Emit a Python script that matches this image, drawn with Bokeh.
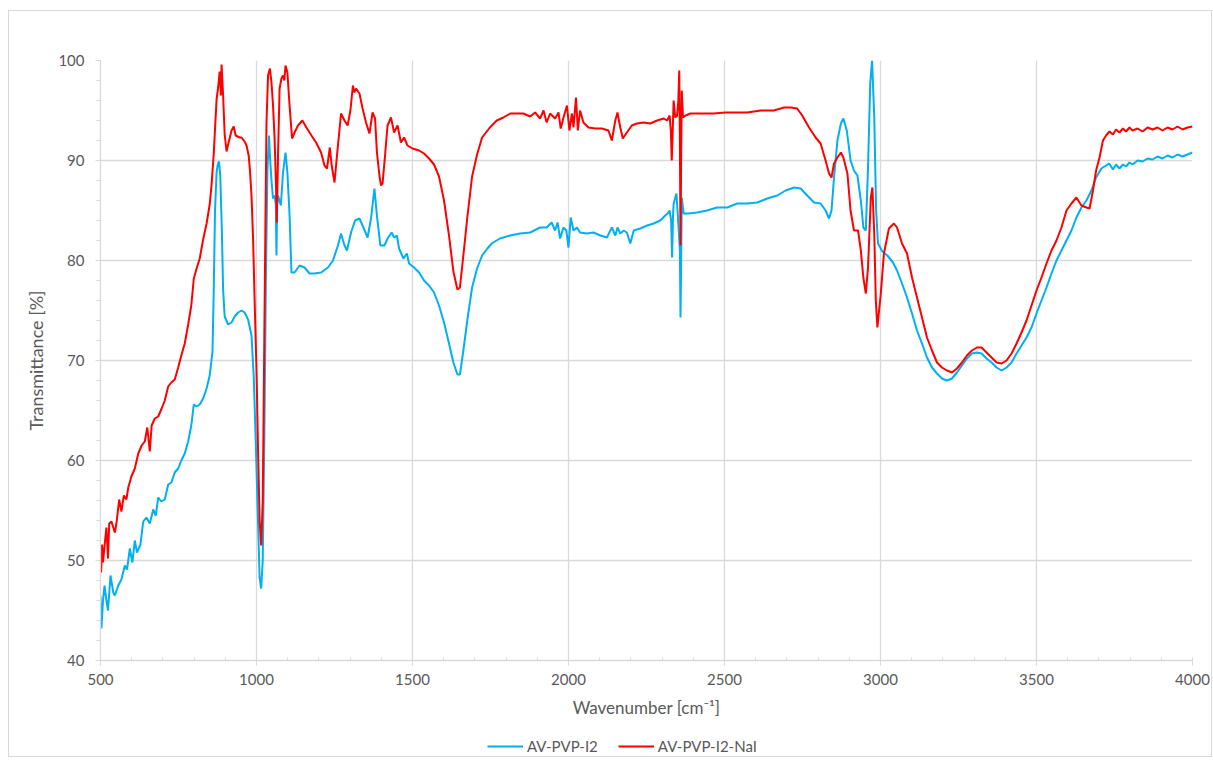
from bokeh.plotting import figure
from bokeh.models import Legend, LegendItem, SingleIntervalTicker, Range1d
from bokeh.layouts import column
from bokeh.embed import file_html
from bokeh.resources import INLINE

# ---------------- data ----------------
blue_wn = [500, 503, 508, 513, 519, 524, 532, 541, 546, 557, 567, 578, 585, 594, 602, 610, 617, 628,
           637, 647, 658, 669, 677, 685, 695, 706, 717, 727, 738, 749, 759, 770, 781, 791, 799, 808,
           818, 829, 840, 850, 859, 863, 867, 872, 876, 880, 884, 889, 893, 898, 909, 920, 930, 941,
           952, 962, 973, 984, 991, 998, 1005, 1010, 1015, 1020, 1025, 1030, 1035, 1040, 1043, 1048,
           1053, 1058, 1062, 1064, 1066, 1069, 1078, 1085, 1093, 1099, 1106, 1112, 1122, 1138, 1154,
           1170, 1186, 1207, 1229, 1245, 1261, 1271, 1282, 1290, 1303, 1316, 1330, 1340, 1356, 1367,
           1378, 1386, 1397, 1410, 1420, 1433, 1441, 1450, 1457, 1471, 1482, 1489, 1505, 1521, 1537,
           1553, 1569, 1585, 1601, 1617, 1631, 1644, 1652, 1663, 1676, 1691, 1707, 1723, 1740, 1754,
           1780, 1813, 1845, 1877, 1909, 1930, 1946, 1957, 1965, 1973, 1984, 1993, 2000, 2007, 2016,
           2027, 2037, 2059, 2080, 2102, 2123, 2139, 2150, 2157, 2166, 2177, 2187, 2198, 2209, 2230,
           2252, 2273, 2294, 2310, 2318, 2324, 2329, 2332, 2335, 2337, 2346, 2352, 2357, 2359, 2361,
           2363, 2369, 2385, 2412, 2444, 2476, 2509, 2541, 2573, 2605, 2637, 2669, 2696, 2723, 2744,
           2765, 2787, 2808, 2824, 2835, 2843, 2851, 2862, 2873, 2881, 2892, 2904, 2915, 2926, 2937,
           2945, 2953, 2960, 2967, 2973, 2980, 2986, 2992, 3006, 3022, 3040, 3053, 3069, 3085, 3101,
           3117, 3133, 3149, 3165, 3181, 3197, 3213, 3229, 3245, 3261, 3277, 3293, 3309, 3324, 3340,
           3356, 3372, 3388, 3404, 3420, 3436, 3452, 3468, 3484, 3500, 3516, 3532, 3548, 3564, 3580,
           3596, 3612, 3628, 3644, 3660, 3676, 3691, 3708, 3723, 3733, 3745, 3755, 3766, 3777, 3787,
           3798, 3808, 3824, 3840, 3856, 3872, 3888, 3904, 3920, 3936, 3952, 3968, 3984, 4000]
blue_t = [46.5, 43.2, 46.0, 47.5, 46.0, 45.0, 48.5, 46.8, 46.5, 47.5, 48.1, 49.5, 49.1, 51.2, 49.8, 52.0, 50.8, 51.6,
          53.9, 54.3, 53.7, 55.1, 54.5, 56.3, 55.9, 56.1, 57.6, 57.8, 58.8, 59.2, 60.0, 60.7, 61.9, 63.5, 65.6, 65.4,
          65.6, 66.2, 67.2, 68.5, 70.9, 77.1, 84.9, 88.8, 89.6, 89.9, 88.4, 82.9, 77.1, 74.4, 73.6, 73.8, 74.4, 74.8,
          75.0, 74.8, 74.1, 72.5, 68.5, 61.5, 53.7, 48.3, 47.2, 50.0, 62.0, 78.0, 89.0, 92.5, 90.5, 88.0,
          86.2, 86.5, 85.5, 80.5, 85.5, 86.5, 85.5, 88.8, 90.8, 88.8, 84.5, 78.8, 78.8, 79.5, 79.3,
          78.7, 78.7, 78.8, 79.3, 80.0, 81.5, 82.7, 81.5, 81.0, 82.8, 84.0, 84.2, 83.5, 82.3, 84.2,
          87.2, 84.5, 81.5, 81.5, 82.2, 82.8, 82.3, 82.5, 81.2, 80.2, 80.7, 79.7, 79.3, 78.8, 78.0,
          77.5, 76.8, 75.5, 73.8, 71.7, 69.8, 68.6, 68.6, 71.0, 74.1, 77.3, 79.2, 80.5, 81.2, 81.7,
          82.2, 82.5, 82.7, 82.8, 83.3, 83.3, 83.8, 83.0, 83.8, 82.2, 83.3, 83.0, 81.3, 84.3, 83.0,
          83.3, 82.8, 82.7, 82.8, 82.5, 82.3, 83.3, 82.5, 83.3, 82.7, 83.0, 82.8, 81.7, 83.0, 83.2,
          83.5, 83.7, 84.0, 84.5, 84.7, 85.0, 84.0, 80.3, 84.5, 85.7, 86.7, 83.7, 81.0, 74.3, 80.0,
          86.3, 84.7, 84.7, 84.8, 85.0, 85.3, 85.3, 85.7, 85.7, 85.8, 86.2, 86.5, 87.0, 87.3, 87.2,
          86.5, 85.8, 85.7, 85.0, 84.2, 85.0, 88.3, 92.0, 93.7, 94.2, 93.0, 90.0, 89.0, 88.5, 86.0,
          83.3, 83.0, 89.3, 97.7, 100.0, 94.3, 85.0, 81.7, 80.9, 80.5, 79.8, 79.0, 77.7, 76.3, 74.7,
          73.0, 71.7, 70.3, 69.3, 68.7, 68.2, 68.0, 68.2, 68.8, 69.5, 70.2, 70.7, 70.8, 70.7, 70.2,
          69.8, 69.3, 69.0, 69.3, 69.8, 70.7, 71.5, 72.3, 73.3, 74.7, 76.0, 77.3, 78.7, 80.0, 81.0,
          82.0, 83.0, 84.3, 85.3, 86.0, 87.0, 88.3, 89.2, 89.5, 89.7, 89.1, 89.6, 89.2, 89.6, 89.4,
          89.8, 89.6, 90.0, 89.9, 90.2, 90.1, 90.4, 90.2, 90.5, 90.3, 90.6, 90.4, 90.6, 90.8]

red_wn = [500, 502, 505, 508, 514, 519, 524, 528, 535, 541, 546, 551, 560, 567, 575, 583, 589, 599,
          610, 621, 632, 642, 650, 658, 664, 674, 685, 696, 706, 717, 727, 738, 749, 759, 770, 781,
          791, 799, 808, 818, 829, 840, 850, 856, 863, 872, 877, 882, 886, 888, 893, 898, 904, 912,
          920, 927, 933, 946, 952, 962, 968, 975, 979, 984, 989, 994, 1000, 1005, 1010, 1015, 1020,
          1025, 1029, 1032, 1037, 1043, 1048, 1053, 1058, 1062, 1065, 1069, 1074, 1080, 1085, 1089,
          1093, 1099, 1106, 1114, 1122, 1133, 1147, 1160, 1176, 1191, 1207, 1218, 1226, 1235, 1241,
          1250, 1258, 1271, 1282, 1292, 1301, 1309, 1314, 1319, 1330, 1340, 1351, 1362, 1372, 1380,
          1386, 1394, 1399, 1404, 1412, 1420, 1431, 1441, 1452, 1463, 1473, 1484, 1500, 1521, 1537,
          1553, 1569, 1585, 1601, 1617, 1631, 1644, 1652, 1663, 1676, 1691, 1707, 1723, 1748, 1770,
          1791, 1813, 1834, 1855, 1877, 1893, 1909, 1920, 1930, 1941, 1957, 1968, 1975, 1984, 1995,
          2003, 2011, 2016, 2024, 2030, 2037, 2048, 2064, 2086, 2107, 2128, 2139, 2150, 2157, 2166,
          2174, 2187, 2203, 2219, 2241, 2262, 2284, 2305, 2316, 2324, 2328, 2331, 2334, 2337, 2342,
          2348, 2352, 2355, 2357, 2359, 2361, 2363, 2367, 2375, 2391, 2423, 2466, 2503, 2541, 2573,
          2616, 2658, 2691, 2712, 2733, 2749, 2771, 2792, 2808, 2824, 2835, 2843, 2851, 2862, 2873,
          2881, 2894, 2904, 2915, 2928, 2937, 2945, 2953, 2960, 2969, 2974, 2980, 2985, 2990, 3001,
          3011, 3027, 3043, 3053, 3069, 3085, 3101, 3117, 3133, 3149, 3165, 3181, 3197, 3213, 3229,
          3245, 3261, 3277, 3293, 3309, 3324, 3340, 3356, 3372, 3388, 3404, 3420, 3436, 3452, 3468,
          3484, 3500, 3516, 3532, 3548, 3564, 3580, 3596, 3612, 3628, 3644, 3660, 3670, 3681, 3691,
          3702, 3713, 3723, 3734, 3745, 3755, 3766, 3777, 3787, 3798, 3808, 3824, 3840, 3856, 3872,
          3888, 3904, 3920, 3936, 3952, 3968, 3984, 4000]
red_t = [50.5, 48.8, 51.6, 49.8, 51.8, 53.3, 50.2, 53.7, 53.9, 53.3, 52.8, 53.7, 56.1, 54.9, 56.5, 56.1, 57.3, 58.4,
         59.2, 60.7, 61.5, 61.9, 63.3, 60.9, 63.5, 64.2, 64.4, 65.2, 66.0, 67.4, 67.8, 68.1, 69.3, 70.5, 71.7, 73.6,
         75.5, 78.2, 79.2, 80.2, 82.1, 83.7, 85.6, 87.6, 90.7, 96.1, 97.3, 98.9, 96.5, 99.6, 96.5, 92.6, 90.9, 92.0,
         93.0, 93.4, 92.5, 92.3, 92.3, 91.9, 91.5, 90.5, 89.0, 86.5, 82.2, 76.0, 69.0, 61.0, 54.0, 51.5, 56.0,
         72.0, 85.0, 93.8, 98.5, 99.2, 97.8, 95.5, 92.2, 88.0, 83.8, 90.5, 97.2, 98.2, 98.5, 98.0,
         99.5, 98.8, 95.5, 92.2, 92.8, 93.5, 94.0, 93.3, 92.5, 91.8, 90.8, 89.5, 89.2, 91.3, 89.5,
         87.8, 90.5, 94.7, 94.0, 93.5, 95.0, 97.5, 96.8, 97.2, 96.7, 95.2, 93.8, 92.7, 94.8, 94.2,
         90.8, 88.5, 87.5, 87.7, 90.5, 93.5, 94.3, 92.8, 93.5, 91.8, 92.3, 91.5, 91.2, 91.0, 90.7,
         90.2, 89.6, 88.4, 86.0, 82.5, 78.9, 77.1, 77.3, 80.5, 84.4, 88.4, 90.6, 92.3, 93.3, 94.0,
         94.3, 94.7, 94.7, 94.7, 94.4, 94.8, 94.2, 95.0, 93.8, 94.7, 94.2, 94.8, 93.2, 94.3, 95.5,
         93.0, 94.7, 93.3, 96.3, 93.0, 95.0, 93.8, 93.3, 93.2, 93.2, 93.0, 92.0, 94.0, 94.8, 93.3,
         92.2, 92.8, 93.5, 93.7, 93.8, 93.7, 94.0, 94.2, 94.0, 94.5, 93.0, 90.0, 93.0, 96.0, 94.3,
         94.5, 96.0, 99.0, 92.0, 81.5, 90.0, 97.0, 94.3, 94.5, 94.7, 94.7, 94.7, 94.8, 94.8, 94.8,
         95.0, 95.0, 95.3, 95.3, 95.2, 94.5, 93.3, 92.3, 91.7, 90.0, 88.7, 88.3, 89.7, 90.3, 90.8,
         90.3, 88.7, 85.0, 83.0, 83.0, 81.0, 78.3, 76.7, 79.3, 86.3, 87.3, 82.7, 76.0, 73.3, 76.7,
         80.7, 83.2, 83.7, 83.3, 81.7, 80.7, 78.3, 76.3, 74.3, 72.3, 71.0, 69.8, 69.3, 69.0, 68.8,
         69.2, 69.8, 70.5, 71.0, 71.3, 71.3, 70.8, 70.3, 69.8, 69.7, 70.0, 70.7, 71.7, 72.8, 74.0,
         75.5, 77.0, 78.3, 79.7, 81.0, 82.0, 83.3, 85.0, 85.7, 86.3, 85.5, 85.3, 85.2, 87.0, 89.0,
         90.3, 92.0, 92.5, 92.9, 92.6, 93.1, 92.8, 93.2, 92.9, 93.3, 93.0, 93.2, 92.9, 93.3, 93.1,
         93.3, 93.0, 93.3, 93.1, 93.4, 93.1, 93.3, 93.4]

series_names = ["AV-PVP-I2", "AV-PVP-I2-NaI"]
series_colors = ["#00B0F0", "#FF0000"]
x_label = "Wavenumber [cm\u207b\u00b9]"
y_label = "Transmittance [%]"

# ---------------- figure ----------------
FONT = "Lato"
TXT = "#595959"
GRID = "#d9d9d9"

p = figure(frame_width=1092, frame_height=600, output_backend="svg", toolbar_location=None,
           x_range=Range1d(500, 4000), y_range=Range1d(40, 100),
           min_border_left=91, min_border_right=19, min_border_top=49, min_border_bottom=0)
p.outline_line_color = None
p.background_fill_color = "white"
p.border_fill_color = "white"

p.xaxis.ticker = SingleIntervalTicker(interval=500, num_minor_ticks=5)
p.yaxis.ticker = SingleIntervalTicker(interval=10, num_minor_ticks=5)

for ax in (p.xaxis[0], p.yaxis[0]):
    ax.axis_line_color = GRID
    ax.axis_line_width = 1.3
    ax.major_tick_line_color = GRID
    ax.minor_tick_line_color = GRID
    ax.major_tick_in = 0
    ax.major_tick_out = 5
    ax.major_label_text_font = FONT
    ax.major_label_text_font_size = "15px"
    ax.major_label_text_color = TXT
    ax.axis_label_text_font = FONT
    ax.axis_label_text_font_style = "normal"
    ax.axis_label_text_color = TXT

p.xaxis.axis_label_text_font_size = "17px"
p.yaxis.axis_label_text_font_size = "18px"
p.xaxis.minor_tick_in = 3
p.xaxis.minor_tick_out = 0
p.yaxis.minor_tick_in = 0
p.yaxis.minor_tick_out = 4
p.xaxis.major_label_standoff = 8
p.yaxis.major_label_standoff = 11
p.xaxis.axis_label = x_label
p.yaxis.axis_label = y_label
p.xaxis.axis_label_standoff = 9
p.yaxis.axis_label_standoff = 8

p.xgrid.ticker = SingleIntervalTicker(interval=500)
p.ygrid.ticker = SingleIntervalTicker(interval=10)
p.grid.grid_line_color = GRID
p.grid.grid_line_width = 1.3

p.line(blue_wn, blue_t, line_color=series_colors[0], line_width=2)
p.line(red_wn, red_t, line_color=series_colors[1], line_width=2)

# ---------------- legend strip ----------------
pl = figure(width=1202, height=36, output_backend="svg", toolbar_location=None,
            x_range=Range1d(0, 1), y_range=Range1d(0, 1), x_axis_type=None, y_axis_type=None,
            min_border=0)
pl.outline_line_color = None
pl.grid.visible = False
# placeholder renderers (outside the visible range) that only supply the legend swatches
lr_blue = pl.line(x=[-3, -2], y=[-3, -2], line_color=series_colors[0], line_width=2)
lr_red = pl.line(x=[-3, -2], y=[-3, -2], line_color=series_colors[1], line_width=2)

legend = Legend(items=[LegendItem(label=series_names[0], renderers=[lr_blue]),
                       LegendItem(label=series_names[1], renderers=[lr_red])],
                orientation="horizontal", location=(387, 1))
legend.label_text_font = FONT
legend.label_text_font_size = "15px"
legend.label_text_color = TXT
legend.glyph_width = 36
legend.glyph_height = 16
legend.label_height = 16
legend.spacing = 20
legend.label_standoff = 4
legend.border_line_color = None
legend.background_fill_alpha = 0
legend.margin = 0
legend.padding = 2
pl.add_layout(legend, "center")

layout = column(p, pl, spacing=0,
                styles={"border": "1px solid #d9d9d9", "margin-left": "8px", "margin-top": "10px"})

open("out.html", "w").write(file_html(layout, INLINE))
